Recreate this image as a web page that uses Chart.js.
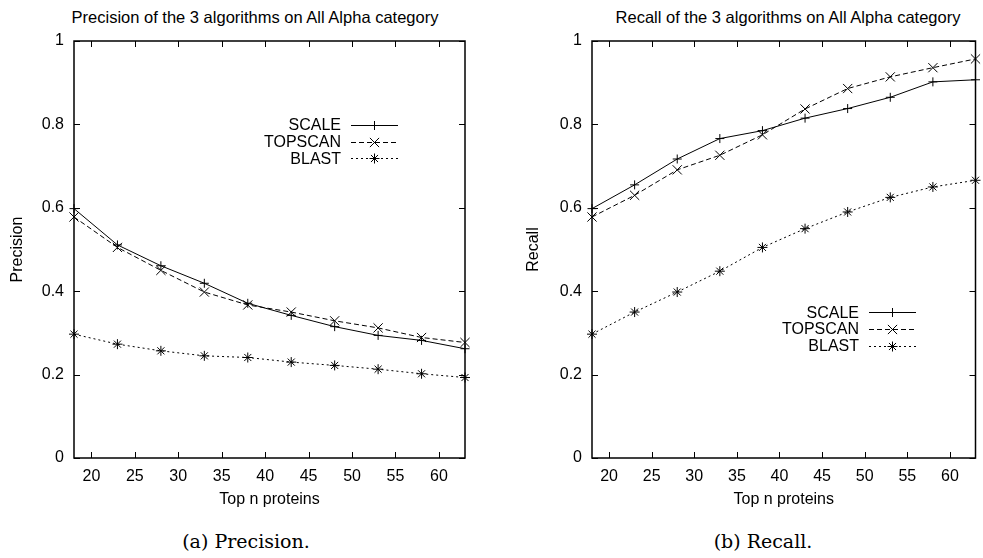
<!DOCTYPE html>
<html lang="en">
<head>
    <meta charset="UTF-8">
    <script src="https://cdn.jsdelivr.net/npm/chart.js@4.4.1/dist/chart.umd.min.js"></script>
    <title>Precision and Recall</title>
    <style>
        body { margin: 0; background: #fff; }
        #wrap { position: relative; width: 983px; height: 558px; overflow: hidden; }
        canvas { position: absolute; top: 0; }
        .title { position: absolute; width: 400px; text-align: center; font: 16.5px 'Liberation Sans', Arial, sans-serif; line-height: 16px; color: #000; }
        .caption { position: absolute; width: 300px; text-align: center; font: 19px 'DejaVu Serif', serif; line-height: 18px; color: #000; }
    </style>
</head>
<body>
<div id="wrap">
    <div class="title" style="left:55px; top:9px;">Precision of the 3 algorithms on All Alpha category</div>
    <div class="title" style="left:588px; top:9px;">Recall of the 3 algorithms on All Alpha category</div>
    <canvas id="precChart" width="491" height="520" style="left:0px"></canvas>
    <canvas id="recChart" width="483" height="520" style="left:500px"></canvas>
    <div class="caption" style="left:96px; top:532px;">(a) Precision.</div>
    <div class="caption" style="left:613px; top:532px;">(b) Recall.</div>
</div>

<script>
    // top n proteins
    const topN = [18, 23, 28, 33, 38, 43, 48, 53, 58, 63];
    const xTicks = [20, 25, 30, 35, 40, 45, 50, 55, 60];
    const yTicks = [0, 0.2, 0.4, 0.6, 0.8, 1];

    const precScale   = [0.598, 0.511, 0.461, 0.419, 0.371, 0.342, 0.315, 0.294, 0.282, 0.262];
    const precTopscan = [0.578, 0.505, 0.450, 0.398, 0.367, 0.350, 0.329, 0.312, 0.289, 0.277];
    const precBlast   = [0.297, 0.273, 0.257, 0.245, 0.241, 0.230, 0.222, 0.213, 0.202, 0.193];

    const recScale   = [0.598, 0.655, 0.717, 0.766, 0.785, 0.815, 0.838, 0.865, 0.902, 0.907];
    const recTopscan = [0.578, 0.630, 0.691, 0.726, 0.775, 0.837, 0.886, 0.914, 0.936, 0.957];
    const recBlast   = [0.297, 0.350, 0.398, 0.448, 0.505, 0.550, 0.590, 0.625, 0.650, 0.666];

    Chart.defaults.font.family = "'Liberation Sans', Arial, sans-serif";
    Chart.defaults.font.size = 16;
    Chart.defaults.color = '#000';

    function pts(vals) {
        return vals.map((v, i) => ({ x: topN[i], y: v }));
    }

    function makeSets(a, b, c) {
        const base = { borderColor: '#000', backgroundColor: '#000', borderWidth: 1,
                       pointBorderWidth: 1, tension: 0, clip: false };
        return [
            Object.assign({ label: 'SCALE', data: pts(a), pointStyle: 'cross', pointRadius: 4.5, pointHoverRadius: 4.5, borderDash: [] }, base),
            Object.assign({ label: 'TOPSCAN', data: pts(b), pointStyle: 'crossRot', pointRadius: 6.5, pointHoverRadius: 6.5, borderDash: [5, 3] }, base),
            Object.assign({ label: 'BLAST', data: pts(c), pointStyle: 'star', pointRadius: 5, pointHoverRadius: 5, borderDash: [2, 3] }, base)
        ];
    }

    // frame with inward ticks on all four sides, like gnuplot
    const framePlugin = {
        id: 'frame',
        afterDatasetsDraw(chart) {
            const ctx = chart.ctx, a = chart.chartArea;
            const xs = chart.scales.x, ys = chart.scales.y;
            const len = 6;
            ctx.save();
            ctx.strokeStyle = '#000';
            ctx.lineWidth = 1;
            ctx.beginPath();
            xTicks.forEach(t => {
                const px = Math.round(xs.getPixelForValue(t)) + 0.5;
                ctx.moveTo(px, a.bottom); ctx.lineTo(px, a.bottom - len);
                ctx.moveTo(px, a.top); ctx.lineTo(px, a.top + len);
            });
            yTicks.forEach(t => {
                const py = Math.round(ys.getPixelForValue(t)) + 0.5;
                ctx.moveTo(a.left, py); ctx.lineTo(a.left + len, py);
                ctx.moveTo(a.right, py); ctx.lineTo(a.right - len, py);
            });
            ctx.stroke();
            ctx.lineWidth = 1.5;
            ctx.strokeRect(a.left, a.top, a.right - a.left, a.bottom - a.top);
            ctx.restore();
        }
    };

    // key: text right aligned, line sample with marker to its right
    const keyPlugin = {
        id: 'gkey',
        afterDatasetsDraw(chart, args, opts) {
            const ctx = chart.ctx;
            ctx.save();
            ctx.font = "16px 'Liberation Sans', Arial, sans-serif";
            ctx.fillStyle = '#000';
            ctx.strokeStyle = '#000';
            ctx.textAlign = 'right';
            ctx.textBaseline = 'middle';
            chart.data.datasets.forEach((ds, i) => {
                const y = opts.y + i * opts.step;
                ctx.fillText(ds.label, opts.x, y + 1);
                const x0 = opts.x + 10, x1 = opts.x + 57;
                ctx.lineWidth = 1;
                ctx.setLineDash(ds.borderDash);
                ctx.beginPath();
                ctx.moveTo(x0, Math.round(y) + 0.5);
                ctx.lineTo(x1, Math.round(y) + 0.5);
                ctx.stroke();
                ctx.setLineDash([]);
                Chart.helpers.drawPoint(ctx, { pointStyle: ds.pointStyle, radius: ds.pointRadius, borderWidth: 1 }, (x0 + x1) / 2, Math.round(y) + 0.5);
            });
            ctx.restore();
        }
    };

    function makeChart(id, sets, yTitle, opt) {
        return new Chart(document.getElementById(id), {
            type: 'line',
            data: { datasets: sets },
            plugins: [framePlugin, keyPlugin],
            options: {
                responsive: false,
                animation: false,
                events: [],
                layout: { padding: { top: 41, left: 0, right: opt.padRight, bottom: 7 } },
                plugins: {
                    legend: { display: false },
                    title: { display: false },
                    tooltip: { enabled: false },
                    gkey: { x: opt.keyX, y: opt.keyY, step: 16.7 }
                },
                scales: {
                    x: {
                        type: 'linear', min: 18, max: 63,
                        grid: { display: false, drawTicks: false },
                        border: { display: false },
                        ticks: { padding: 9, maxRotation: 0, autoSkip: false },
                        afterBuildTicks(s) { s.ticks = xTicks.map(v => ({ value: v })); },
                        title: { display: true, text: 'Top n proteins', padding: { top: 4, bottom: 4 } },
                        afterFit(s) { s.height = 55; }
                    },
                    y: {
                        min: 0, max: 1,
                        grid: { display: false, drawTicks: false },
                        border: { display: false },
                        ticks: { padding: 10, autoSkip: false, callback: v => String(v) },
                        afterBuildTicks(s) { s.ticks = yTicks.map(v => ({ value: v })); },
                        title: { display: true, text: yTitle, padding: { top: opt.yTitlePad, bottom: 0 } },
                        afterFit(s) { s.width = opt.yWidth; }
                    }
                }
            }
        });
    }

    makeChart('precChart', makeSets(precScale, precTopscan, precBlast), 'Precision',
        { padRight: 26, yWidth: 74, yTitlePad: 8, keyX: 341, keyY: 125 });
    makeChart('recChart', makeSets(recScale, recTopscan, recBlast), 'Recall',
        { padRight: 1, yWidth: 92, yTitlePad: 24, keyX: 359, keyY: 312.3 });
</script>
</body>
</html>
